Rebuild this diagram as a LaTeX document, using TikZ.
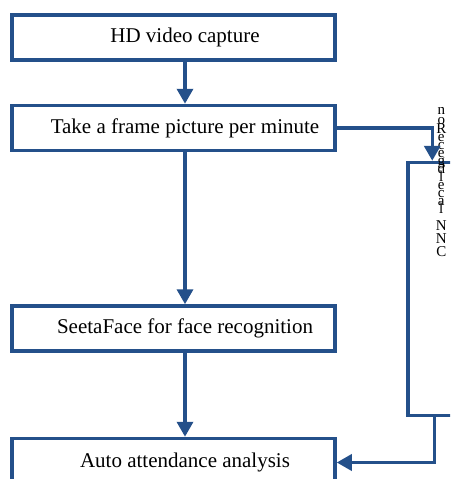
\documentclass[tikz,border=0pt]{standalone}
\usepackage{fontspec}
\setmainfont{Liberation Serif}
\usepackage{tikz}
\usetikzlibrary{positioning,arrows.meta}
\definecolor{flowblue}{HTML}{24508A}
\tikzset{
  stage/.style  = {rectangle, draw=flowblue, line width=3.5pt, minimum width=323pt,
                   minimum height=45pt, inner sep=0pt, font=\fontsize{21}{24}\selectfont,
                   execute at begin node=\hspace*{23pt}},
  panel/.style  = {rectangle, draw=flowblue, line width=3.5pt, minimum width=70pt,
                   minimum height=253pt, inner sep=0pt},
  link/.style   = {-{Triangle[length=15pt,width=16pt]}, line width=3.5pt, draw=flowblue},
  vtext/.style  = {font=\fontsize{15}{10}\selectfont, align=center, inner sep=0pt,
                   execute at begin node={\lineskiplimit=-20pt\relax}},
}

\begin{document}
\begin{tikzpicture}[x=1pt,y=-1pt, node distance=45pt]
  \useasboundingbox (0,0) rectangle (450,479);
  \clip (0,0) rectangle (450,479);
  \node[stage] (capture) at (173.5,37.5) {HD video capture};
  \node[stage, below=42pt of capture] (frame) {Take a frame picture per minute};
  \node[stage, below=152pt of frame] (seeta) {SeetaFace for face recognition};
  \node[stage, below=84pt of seeta, minimum height=48pt] (attend) {Auto attendance analysis};
  \node[panel, below right=8.5pt and 69.5pt of frame.south east] (cnn) {};
  \node[vtext, anchor=north] (lbl) at ([xshift=35pt, yshift=54pt]cnn.north west)
    {n\\o\\[-1pt]R\\[-2pt]e\\[-2pt]c\\[-2pt]e\\[-2pt]g\\[-2pt]d\\[-2pt]l\\[-2pt]e\\[-2pt]c\\[-2pt]a\\[-2pt]l\\[7pt]N\\[3pt]N\\[3pt]C};
  \draw[link] ([xshift=11.5pt]capture.south) -- ([xshift=11.5pt]frame.north);
  \draw[link] ([xshift=11.5pt]frame.south) -- ([xshift=11.5pt]seeta.north);
  \draw[link] ([xshift=11.5pt]seeta.south) -- ([xshift=11.5pt]attend.north);
  \draw[link] (frame.east) -| ([xshift=26pt]cnn.north west);
  \draw[link] ([xshift=28pt]cnn.south west) |- (attend.east);
\end{tikzpicture}
\end{document}
